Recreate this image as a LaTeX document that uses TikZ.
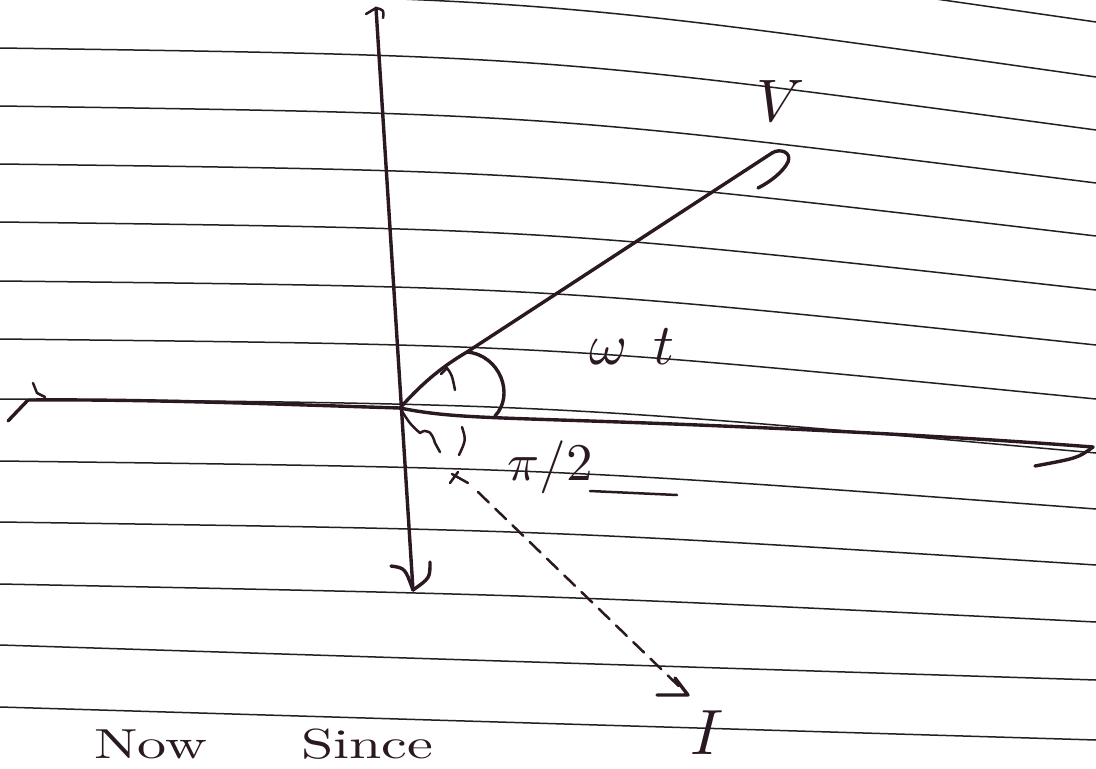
\documentclass[tikz,border=0pt]{standalone}
\usetikzlibrary{arrows.meta}
\definecolor{inkc}{HTML}{2A1822}
\definecolor{rulec}{HTML}{202020}
\begin{document}
\begin{tikzpicture}[x=1pt,y=-1pt,
  rl/.style={line width=1.5pt, draw=rulec},
  ink/.style={line width=3.4pt, draw=inkc, line cap=round, line join=round},
  thinink/.style={line width=2.5pt, draw=inkc, line cap=round, line join=round},
  lbl/.style={text=inkc, inner sep=0pt}]
\useasboundingbox (0,0) rectangle (1096,769);
\clip (0,0) rectangle (1096,769);
\fill[white] (0,0) rectangle (1096,769);
% ruled paper lines
\foreach \a/\b/\c in {-66/22/-57, -10/77/-1, 48/130/56, 106/183/114, 164/236/171, 222/290/229,
  281/345/287, 339/399/345, 399/453/404, 461/509/468, 522/565/530, 584/622/595, 645/680/662, 707/740/723}
  \draw[rl] (0,\a) .. controls (548,\c) .. (1096,\b);
% key points
\coordinate (O) at (400,408);
\coordinate (ytop) at (376,8);
\coordinate (ybot) at (413,590);
\coordinate (xl) at (28,400);
\coordinate (xr) at (1093,447);
\coordinate (vbend) at (467,352);
\coordinate (vtip) at (772,153);
\coordinate (arcend) at (495,416);
\coordinate (iwave) at (440,452);
\coordinate (istart) at (478,492);
\coordinate (itip) at (688,695);
% vertical axis
\draw[ink] (ytop) -- (ybot);
\draw[thinink] (366,14) -- (ytop) .. controls (384,10) .. (383,18);
\draw[ink] (391,566) .. controls (405,568) .. (ybot);
\draw[ink] (430,562) .. controls (430,578) .. (ybot);
% horizontal axis
\draw[ink] (xl) .. controls (150,399) and (300,405) .. (O);
\draw[ink] (O) .. controls (440,416) and (470,417) .. (560,420) .. controls (750,426) and (950,436) .. (xr);
\draw[ink] (8,421) -- (xl);
\draw[thinink] (33,383) -- (37,393) -- (45,397);
\draw[ink] (xr) .. controls (1078,458) .. (1035,466);
% V vector
\draw[ink] (O) .. controls (425,380) and (445,365) .. (vbend) -- (vtip);
\draw[ink] (vtip) .. controls (780,148) and (792,152) .. (788,162) .. controls (783,172) and (770,182) .. (758,188);
\node[lbl, scale=6] (vlab) at (781,101) {$V$};
% angle arc omega t
\draw[ink] (vbend) .. controls (500,355) and (515,395) .. (arcend);
\draw[thinink] (441,374) -- (447,368) .. controls (452,375) .. (455,390);
\node[lbl, scale=5.8] (wt) at (632,347) {$\omega\;\,t$};
% I vector
\draw[thinink] (O) .. controls (410,424) .. (420,433) .. controls (427,428) and (432,432) .. (435,443) -- (iwave);
\draw[thinink] (462,427) .. controls (466,440) .. (459,455);
\draw[thinink] (450,483) -- (458,472) (452,474) -- (468,483);
\draw[thinink, dash pattern=on 15pt off 9pt] (istart) -- (itip);
\draw[ink] (657,695) -- (itip) -- (675,678);
\node[lbl, scale=6.4] (ilab) at (707,733) {$I$};
% pi/2 label
\node[lbl, scale=5.3] (pi2) at (550,467) {$\pi/2$};
\draw[thinink] (590,491) -- (677,495);
% bottom text
\node[lbl, anchor=base west, xscale=5.8, yscale=4.2] (now) at (93,758) {Now};
\node[lbl, anchor=base west, xscale=5.8, yscale=4.2] (since) at (300,758) {Since};
\end{tikzpicture}
\end{document}
